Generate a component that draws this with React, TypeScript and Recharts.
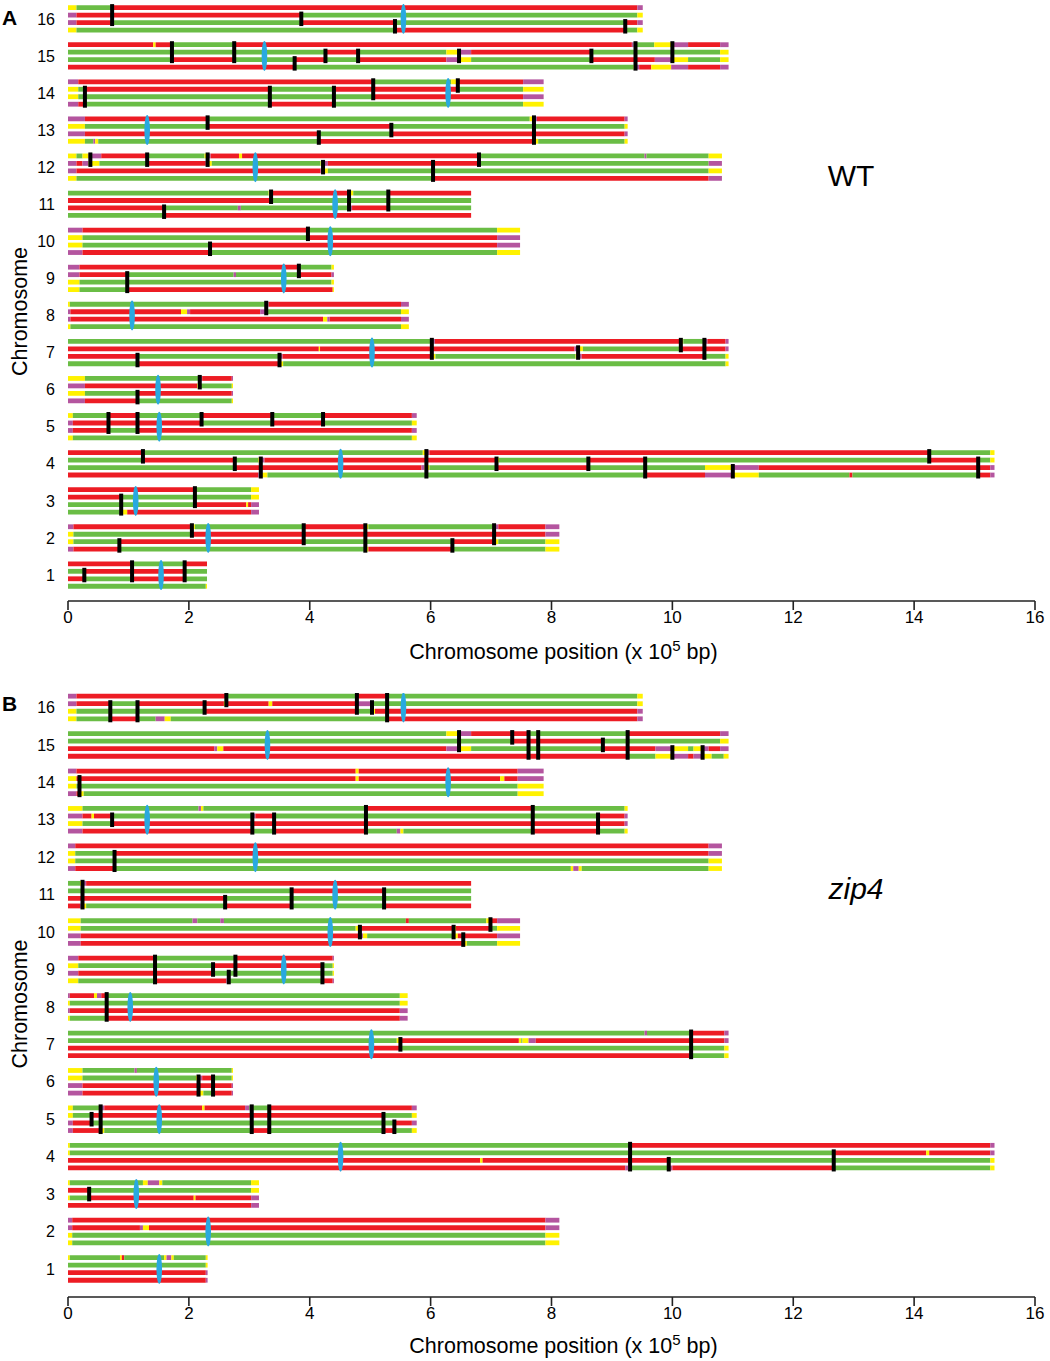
import React from 'react';
import { ComposedChart, XAxis, YAxis, Scatter, ReferenceArea, Label } from 'recharts';

const chromosomes = [1, 2, 3, 4, 5, 6, 7, 8, 9, 10, 11, 12, 13, 14, 15, 16];
const xTicks = [0, 2, 4, 6, 8, 10, 12, 14, 16];
const palette: Record<string, string> = { r: '#ED1C24', g: '#6ABD45', y: '#FFF200', p: '#B4559F' };

// each chromatid: colour letter + segment end (x 10^5 bp), chromosomes 1..16, four chromatids each
const wtLines: string[][] = [
  ['r1.06 g1.93 r2.30', 'g0.27 r1.93 g2.30', 'r0.27 g1.06 r1.93 g2.30', 'g2.28 y2.30'],
  ['p0.09 r2.05 y2.1 g3.90 r4.92 y4.97 g7.02 y7.07 p7.12 r7.90 p8.13', 'y0.09 g2.05 r7.90 p8.13', 'y0.09 g0.85 r3.90 g6.36 r7.05 p7.08 y7.12 g7.90 y8.13', 'p0.09 r0.85 g4.92 y4.97 r6.36 g7.90 y8.13'],
  ['r2.10 g3.03 y3.16', 'r0.86 y0.9 g3.03 y3.16', 'g2.10 r2.95 y2.98 r3.03 p3.16', 'g0.88 y0.98 r3.03 p3.16'],
  ['r1.24 g5.87 y5.91 p5.98 r14.25 g15.26 y15.33', 'g1.24 r2.76 g3.15 y3.19 p3.25 r7.09 y7.13 g8.61 r9.55 g14.25 r15.06 g15.26 y15.33', 'g2.76 r5.85 p5.90 y5.98 g7.09 r8.61 g10.54 y11.0 p11.43 r15.26 p15.33', 'r3.15 p3.19 y3.3 g9.55 r10.54 p11.0 y11.43 g12.93 r12.98 g15.06 r15.26 p15.33'],
  ['y0.08 g0.67 r1.15 g2.21 r3.38 g4.22 r5.69 p5.77', 'p0.08 r2.21 g3.38 r4.22 g5.69 y5.77', 'p0.08 r0.67 g1.15 r5.69 p5.77', 'y0.08 g5.69 y5.77'],
  ['y0.28 g2.16 p2.22 r2.71 p2.73', 'p0.28 r2.14 y2.2 g2.71 y2.73', 'y0.28 g1.15 r2.71 p2.73', 'p0.28 r1.15 g2.71 y2.73'],
  ['g6.0 p6.07 r10.14 y10.18 g10.53 p10.58 r10.88 p10.93', 'r4.15 y4.17 r8.38 p8.44 y8.52 g10.14 r10.88 p10.93', 'r1.15 g3.50 p3.55 r6.02 y6.08 g8.40 y8.44 p8.50 r10.53 g10.88 y10.93', 'g1.15 r3.50 y3.56 g10.88 y10.93'],
  ['y0.03 g3.28 p3.32 r5.51 p5.64', 'p0.04 r1.87 y1.97 p2.02 r3.18 p3.26 g5.51 y5.64', 'p0.04 r4.22 y4.29 p4.33 r5.51 p5.64', 'y0.04 g5.51 y5.64'],
  ['p0.19 r3.82 g4.36 y4.40', 'p0.19 r0.98 g2.74 p2.78 g3.82 r4.36 p4.40', 'y0.19 g4.36 y4.40', 'y0.19 g0.98 r4.38 y4.40'],
  ['p0.24 r3.97 g7.10 y7.48', 'y0.24 g3.97 r7.10 p7.48', 'y0.24 g2.35 r7.10 p7.48', 'p0.24 r2.35 g7.10 y7.48'],
  ['g3.32 y3.36 r4.65 y4.72 g5.30 r6.67', 'r3.36 g6.67', 'r1.59 g2.81 p2.86 g4.65 p4.70 r5.30 g6.67', 'g1.59 r6.67'],
  ['y0.14 g0.24 y0.34 p0.55 r1.31 g2.26 y2.31 p2.36 r2.83 y2.88 r6.80 g9.54 p9.57 g10.6 y10.82', 'p0.14 r0.24 p0.34 y0.52 g1.31 r2.28 p2.31 y2.38 g4.18 y4.22 p4.30 r6.80 g10.6 p10.82', 'p0.14 r4.18 p4.22 y4.30 g10.6 y10.82', 'y0.14 g6.04 r10.6 p10.82'],
  ['p0.28 r2.31 g7.64 y7.70 p7.76 r9.21 p9.26', 'y0.28 g2.31 r5.35 g9.21 y9.26', 'p0.28 r4.15 g5.35 r9.21 p9.26', 'y0.28 g0.42 p0.45 y0.5 g4.15 r7.68 p7.72 y7.78 g9.21 y9.26'],
  ['p0.17 r5.05 g6.34 y6.42 r7.53 p7.87', 'y0.17 g0.28 r3.34 g4.40 r6.45 g7.53 y7.87', 'y0.17 g5.05 r7.53 p7.87', 'p0.17 r0.28 g3.34 r4.40 g7.53 y7.87'],
  ['r1.41 y1.45 r1.72 g2.75 r9.33 p9.36 g9.7 y9.98 p10.26 r10.79 p10.93', 'g4.26 r4.80 g6.26 y6.47 p6.67 r8.66 g10.79 y10.93', 'g1.72 r2.75 g3.75 r4.26 g4.80 r6.26 p6.47 y6.67 g8.66 r9.71 p10.0 y10.26 g10.79 y10.93', 'r3.75 g9.36 y9.40 p9.45 r9.65 y9.98 p10.26 r10.79 p10.93'],
  ['y0.14 g0.72 r9.42 p9.51', 'p0.14 r3.86 g9.42 y9.51', 'p0.14 r0.73 g3.86 r5.41 g9.22 r9.42 p9.51', 'y0.14 g5.41 r9.22 g9.42 y9.51'],
];
const wtCentromeres = [1.54, 2.32, 1.12, 4.51, 1.51, 1.49, 5.03, 1.06, 3.57, 4.34, 4.42, 3.10, 1.31, 6.29, 3.25, 5.55];
// [chromosome, position, first chromatid, last chromatid]
const wtCrossovers: number[][] = [
  [1, 0.27, 2, 3], [1, 1.06, 1, 3], [1, 1.93, 1, 3],
  [2, 2.05, 1, 2], [2, 3.90, 1, 3], [2, 4.92, 1, 4], [2, 7.05, 1, 3], [2, 0.85, 3, 4], [2, 6.36, 3, 4],
  [3, 2.10, 1, 3], [3, 0.88, 2, 4],
  [4, 1.24, 1, 2], [4, 2.76, 2, 3], [4, 3.19, 2, 4], [4, 5.93, 1, 4], [4, 7.09, 2, 3], [4, 8.61, 2, 3], [4, 9.55, 2, 4], [4, 11.0, 3, 4], [4, 14.25, 1, 2], [4, 15.06, 2, 4],
  [5, 0.67, 1, 3], [5, 1.15, 1, 3], [5, 2.21, 1, 2], [5, 3.38, 1, 2], [5, 4.22, 1, 2],
  [6, 2.18, 1, 2], [6, 1.15, 3, 4],
  [7, 1.15, 3, 4], [7, 3.50, 3, 4], [7, 6.02, 1, 3], [7, 8.44, 2, 3], [7, 10.14, 1, 2], [7, 10.53, 1, 3],
  [8, 3.28, 1, 2],
  [9, 0.98, 2, 4], [9, 3.82, 1, 2],
  [10, 3.97, 1, 2], [10, 2.35, 3, 4],
  [11, 1.59, 3, 4], [11, 3.36, 1, 2], [11, 4.65, 1, 3], [11, 5.30, 1, 3],
  [12, 0.37, 1, 2], [12, 1.31, 1, 2], [12, 2.31, 1, 2], [12, 4.22, 2, 3], [12, 6.04, 2, 4], [12, 6.80, 1, 2],
  [13, 2.31, 1, 2], [13, 4.15, 3, 4], [13, 5.35, 2, 3], [13, 7.71, 1, 4],
  [14, 0.28, 2, 4], [14, 3.34, 2, 4], [14, 4.40, 2, 4], [14, 5.05, 1, 3], [14, 6.45, 1, 2],
  [15, 1.72, 1, 3], [15, 2.75, 1, 3], [15, 3.75, 3, 4], [15, 4.26, 2, 3], [15, 4.80, 2, 3], [15, 6.47, 2, 3], [15, 8.66, 2, 3], [15, 9.39, 1, 4], [15, 10.0, 1, 3],
  [16, 0.73, 1, 3], [16, 3.86, 2, 3], [16, 5.41, 3, 4], [16, 9.22, 3, 4],
];

const zipLines: string[][] = [
  ['y0.03 g0.86 y0.89 r0.93 g1.59 y1.63 p1.71 y1.75 g2.28 y2.31', 'g2.28 y2.31', 'r2.28 p2.31', 'r2.28 p2.31'],
  ['p0.07 r7.90 p8.13', 'p0.07 r1.19 p1.24 y1.34 r7.90 p8.13', 'y0.07 g7.90 y8.13', 'y0.07 g7.90 y8.13'],
  ['y0.03 g1.24 y1.32 p1.51 y1.56 g3.03 y3.16', 'r0.35 g3.03 y3.16', 'y0.03 g0.35 r2.08 y2.11 r3.03 p3.16', 'r3.03 p3.16'],
  ['y0.03 g9.30 r15.26 p15.33', 'y0.03 g12.67 r14.2 y14.25 r15.26 p15.33', 'r6.82 y6.86 r9.94 g15.26 y15.33', 'r9.22 p9.27 y9.32 g9.94 p10.0 r12.67 g15.26 y15.33'],
  ['y0.08 g0.54 p0.6 r2.22 y2.26 r2.93 p3.0 g3.33 r5.69 p5.77', 'y0.08 g0.39 r5.22 g5.69 y5.77', 'p0.08 r0.39 g5.40 r5.69 p5.77', 'p0.08 r0.54 y0.6 g3.04 r3.33 g5.22 r5.40 g5.69 y5.77'],
  ['y0.24 g1.10 p1.14 g2.71 y2.73', 'y0.24 g2.12 y2.16 p2.22 r2.40 g2.71 y2.73', 'p0.24 r2.71 p2.73', 'p0.24 r2.14 p2.18 y2.24 g2.40 r2.71 p2.73'],
  ['g9.54 p9.58 g10.31 r10.86 p10.93', 'g5.44 y5.48 r7.46 y7.5 g7.52 y7.62 p7.74 r10.86 p10.93', 'r5.50 g10.86 y10.93', 'r10.31 g10.86 y10.93'],
  ['p0.03 r0.43 y0.48 p0.55 r0.64 g5.49 y5.62', 'y0.03 g5.49 y5.62', 'p0.03 r5.49 p5.62', 'y0.03 g0.64 r5.49 p5.62'],
  ['p0.17 r1.44 g2.77 r4.38 p4.40', 'y0.17 g2.40 r4.21 g4.38 y4.40', 'p0.17 r2.40 g4.38 y4.40', 'y0.17 g1.44 r2.62 p2.66 g4.21 r4.38 p4.40'],
  ['y0.21 g2.06 p2.14 g2.52 p2.58 g5.59 r5.64 g6.92 y6.97 r7.10 p7.48', 'y0.21 g4.76 y4.83 r6.36 y6.42 r6.99 g7.10 y7.48', 'p0.21 r4.83 p4.88 y4.95 g6.38 y6.45 r7.10 p7.48', 'p0.21 r6.54 y6.6 g7.10 y7.48'],
  ['g0.2 y0.23 p0.3 r6.67', 'g3.70 r5.23 g6.67', 'r2.60 g6.67', 'r0.2 p0.24 y0.3 g2.60 r3.70 g5.23 r6.67'],
  ['p0.12 r10.6 p10.82', 'y0.12 g0.77 r10.6 p10.82', 'y0.12 g10.6 y10.82', 'p0.12 r0.77 g8.32 y8.36 p8.45 y8.50 g10.6 y10.82'],
  ['y0.24 g2.16 p2.2 y2.24 g4.93 r7.69 g9.21 y9.26', 'p0.24 r0.39 y0.43 r0.73 g3.05 p3.10 r3.41 g8.77 r9.21 p9.26', 'y0.24 g0.73 r9.21 p9.26', 'p0.24 r3.05 g3.41 r4.93 g5.44 p5.5 y5.55 g7.66 y7.7 r8.77 g9.21 y9.26'],
  ['p0.14 r4.76 y4.81 r7.44 p7.87', 'y0.14 r4.76 y4.81 r7.15 y7.22 r7.44 p7.87', 'y0.14 g7.44 y7.87', 'p0.14 r0.19 y0.26 g7.44 y7.87'],
  ['g6.26 y6.47 p6.67 r7.62 g9.26 r10.79 p10.93', 'g7.35 r8.85 g10.79 y10.93', 'r2.42 p2.47 y2.57 r6.26 p6.47 y6.67 g8.85 r9.72 p10.0 y10.26 g10.35 y10.5 p10.6 r10.79 p10.93', 'r9.26 g9.72 y10.0 p10.26 r10.35 p10.5 y10.65 g10.85 y10.93'],
  ['p0.14 r2.60 p2.64 g4.78 r5.28 g9.42 y9.51', 'p0.14 r0.70 g1.15 r2.58 y2.64 r3.32 y3.38 r4.78 p5.0 g9.42 y9.51', 'y0.14 g2.26 r4.78 g5.03 y5.08 r9.42 p9.51', 'y0.14 g0.68 r1.15 g1.45 p1.60 y1.70 g5.28 r9.42 p9.51'],
];
const zipCentromeres = [1.51, 2.32, 1.13, 4.51, 1.51, 1.46, 5.02, 1.03, 3.57, 4.34, 4.42, 3.10, 1.31, 6.29, 3.30, 5.55];
const zipCrossovers: number[][] = [
  [3, 0.35, 2, 3],
  [4, 9.30, 1, 4], [4, 9.94, 3, 4], [4, 12.67, 2, 4],
  [5, 0.54, 1, 4], [5, 0.39, 2, 3], [5, 3.04, 1, 4], [5, 3.33, 1, 4], [5, 5.22, 2, 4], [5, 5.40, 3, 4],
  [6, 2.16, 2, 4], [6, 2.40, 2, 4],
  [7, 5.50, 2, 3], [7, 10.31, 1, 4],
  [8, 0.64, 1, 4],
  [9, 1.44, 1, 4], [9, 2.40, 2, 3], [9, 2.77, 1, 3], [9, 2.66, 3, 4], [9, 4.21, 2, 4],
  [10, 4.83, 2, 3], [10, 6.38, 2, 3], [10, 6.54, 3, 4], [10, 6.99, 1, 2],
  [11, 0.24, 1, 4], [11, 2.60, 3, 4], [11, 3.70, 2, 4], [11, 5.23, 2, 4],
  [12, 0.77, 2, 4],
  [13, 0.73, 2, 3], [13, 3.05, 2, 4], [13, 3.41, 2, 4], [13, 4.93, 1, 4], [13, 7.69, 1, 4], [13, 8.77, 2, 4],
  [14, 0.19, 2, 4],
  [15, 6.47, 1, 3], [15, 7.35, 1, 2], [15, 7.62, 1, 4], [15, 7.78, 1, 4], [15, 8.85, 2, 3], [15, 9.26, 1, 4], [15, 10.0, 3, 4], [15, 10.5, 3, 4],
  [16, 0.70, 2, 4], [16, 1.15, 2, 4], [16, 2.26, 2, 3], [16, 2.62, 1, 2], [16, 4.78, 1, 3], [16, 5.03, 2, 3], [16, 5.28, 1, 4],
];

const LINE_STEP = 0.2015;
const FONT = 'Arial, "Liberation Sans", Helvetica, sans-serif';

const lineY = (chr: number, line: number) => chr + (1.5 - line) * LINE_STEP;

function toSegments(lines: string[][]) {
  const out: { chr: number; line: number; x1: number; x2: number; color: string }[] = [];
  lines.forEach((chrom, ci) =>
    chrom.forEach((str, li) => {
      let start = 0;
      str.trim().split(/\s+/).forEach((tok) => {
        const end = parseFloat(tok.slice(1));
        out.push({ chr: ci + 1, line: li, x1: start, x2: end, color: palette[tok[0]] });
        start = end;
      });
    })
  );
  return out;
}

function AxisTitle(props: any) {
  const vb = props.viewBox || {};
  const cx = vb.x + vb.width / 2 + 12;
  return (
    <text x={cx} y={vb.y + props.dy0} textAnchor="middle" fontSize={21.5} fontFamily={FONT} fill="#000">
      Chromosome position (x 10
      <tspan dy={-8} fontSize={15}>5</tspan>
      <tspan dy={8}> bp)</tspan>
    </text>
  );
}

function Panel({ lines, centromeres, crossovers, top, height, marginTop, axisHeight, yMin, yMax, titleDy }: any) {
  const plotH = height - marginTop - axisHeight;
  const unitPx = plotH / (yMax - yMin);
  const half = 2.4 / unitPx;
  const pitchPx = LINE_STEP * unitPx;
  const segs = toSegments(lines);
  const cross = crossovers.map(([chr, x, a, b]: number[]) => ({ x, y: chr + (1.5 - (a + b - 2) / 2) * LINE_STEP, span: b - a }));
  const cens = centromeres.map((x: number, i: number) => ({ x, y: i + 1 }));
  const midY = marginTop + plotH / 2 + 9;

  return (
    <div style={{ position: 'absolute', left: 0, top }}>
      <ComposedChart width={1050} height={height} margin={{ top: marginTop, right: 15, bottom: 0, left: 28 }}>
        <XAxis
          type="number"
          dataKey="x"
          domain={[0, 16]}
          ticks={xTicks}
          interval={0}
          allowDataOverflow
          height={axisHeight}
          tickSize={9}
          tickMargin={1}
          tick={{ fontSize: 17, fill: '#000', fontFamily: FONT }}
          axisLine={{ stroke: '#222', strokeWidth: 1.6 }}
          tickLine={{ stroke: '#222', strokeWidth: 1.6 }}
        >
          <Label content={(p: any) => <AxisTitle {...p} dy0={titleDy} />} />
        </XAxis>
        <YAxis
          type="number"
          dataKey="y"
          domain={[yMin, yMax]}
          ticks={chromosomes}
          interval={0}
          allowDataOverflow
          width={40}
          axisLine={false}
          tickLine={false}
          tickSize={0}
          tickMargin={13}
          tick={{ fontSize: 16, fill: '#000', fontFamily: FONT }}
        >
          <Label
            content={() => (
              <text x={27} y={midY} transform={`rotate(-90, 27, ${midY})`} textAnchor="middle" fontSize={21.5} fontFamily={FONT} fill="#000">
                Chromosome
              </text>
            )}
          />
        </YAxis>
        {segs.map((s, i) => (
          <ReferenceArea
            key={i}
            x1={s.x1}
            x2={s.x2}
            y1={lineY(s.chr, s.line) - half}
            y2={lineY(s.chr, s.line) + half}
            fill={s.color}
            fillOpacity={1}
            stroke="none"
            ifOverflow="visible"
          />
        ))}
        <Scatter
          data={cross}
          isAnimationActive={false}
          legendType="none"
          shape={(p: any) => {
            const h = p.payload.span * pitchPx + 7;
            return <rect x={p.cx - 2} y={p.cy - h / 2} width={4} height={h} fill="#000" />;
          }}
        />
        <Scatter
          data={cens}
          isAnimationActive={false}
          legendType="none"
          shape={(p: any) => <ellipse cx={p.cx} cy={p.cy} rx={2.8} ry={15} fill="#29A9E0" />}
        />
      </ComposedChart>
    </div>
  );
}

export default function App() {
  return (
    <div style={{ position: 'absolute', left: 0, top: 0, width: 1050, height: 1361, background: '#fff' }}>
      <Panel lines={wtLines} centromeres={wtCentromeres} crossovers={wtCrossovers} top={0} height={670} marginTop={4} axisHeight={69} yMin={0.3} yMax={16.4} titleDy={58} />
      <Panel lines={zipLines} centromeres={zipCentromeres} crossovers={zipCrossovers} top={688} height={673} marginTop={5} axisHeight={64} yMin={0.25} yMax={16.387} titleDy={56} />
      <svg width={1050} height={1361} style={{ position: 'absolute', left: 0, top: 0, pointerEvents: 'none' }}>
        <text x={2} y={25} fontSize={21} fontWeight="bold" fontFamily={FONT} fill="#000">A</text>
        <text x={2} y={711} fontSize={21} fontWeight="bold" fontFamily={FONT} fill="#000">B</text>
        <text x={851} y={186} textAnchor="middle" fontSize={30} fontFamily={FONT} fill="#000">WT</text>
        <text x={856} y={899} textAnchor="middle" fontSize={30} fontStyle="italic" fontFamily={FONT} fill="#000">zip4</text>
      </svg>
    </div>
  );
}
